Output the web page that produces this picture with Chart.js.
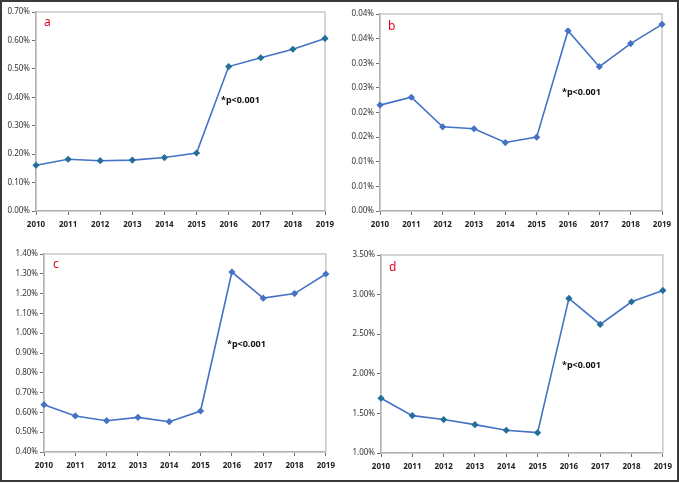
<!DOCTYPE html>
<html>
<head>
<meta charset="utf-8">
<script src="https://cdn.jsdelivr.net/npm/chart.js@4.4.1/dist/chart.umd.min.js"></script>
<style>
  body { margin: 0; background: #fff; }
  #frame { position: absolute; left: 0; top: 0; width: 679px; height: 482px; box-sizing: border-box; border: 2px solid #3a3a3a; }
  canvas { position: absolute; }
  .tag { position: absolute; color: #e8001c; font: 12px "Noto Sans", sans-serif; }
  .pval { position: absolute; color: #111; font: bold 9px "Noto Sans", sans-serif; }
</style>
</head>
<body>
<div id="frame"></div>
<canvas id="cA"></canvas>
<canvas id="cB"></canvas>
<canvas id="cC"></canvas>
<canvas id="cD"></canvas>
<div class="tag" style="left:44px;top:13px">a</div>
<div class="tag" style="left:388px;top:17px">b</div>
<div class="tag" style="left:53px;top:255px">c</div>
<div class="tag" style="left:389px;top:258px">d</div>
<div class="pval" style="left:221px;top:93px">*p&lt;0.001</div>
<div class="pval" style="left:562px;top:85px">*p&lt;0.001</div>
<div class="pval" style="left:227px;top:337px">*p&lt;0.001</div>
<div class="pval" style="left:562px;top:358px">*p&lt;0.001</div>
<script>
// jaren
const jaren = ['2010','2011','2012','2013','2014','2015','2016','2017','2018','2019'];

// waarden per paneel (in %)
const waardenA = [0.161, 0.182, 0.177, 0.179, 0.188, 0.204, 0.508, 0.539, 0.569, 0.607];
const waardenB = [0.0215, 0.0231, 0.0171, 0.0167, 0.0139, 0.0150, 0.0366, 0.0293, 0.0340, 0.0379];
const waardenC = [0.639, 0.582, 0.558, 0.575, 0.553, 0.607, 1.309, 1.177, 1.200, 1.299];
const waardenD = [1.691, 1.472, 1.422, 1.358, 1.287, 1.257, 2.952, 2.623, 2.910, 3.053];

// as-labels
const ticksA = ['0.00%','0.10%','0.20%','0.30%','0.40%','0.50%','0.60%','0.70%'];
const ticksB = ['0.00%','0.01%','0.01%','0.02%','0.02%','0.03%','0.03%','0.04%','0.04%'];
const ticksC = ['0.40%','0.50%','0.60%','0.70%','0.80%','0.90%','1.00%','1.10%','1.20%','1.30%','1.40%'];
const ticksD = ['1.00%','1.50%','2.00%','2.50%','3.00%','3.50%'];

// kader rond het plotgebied (boven en rechts lichtgrijs)
const kader = {
  id: 'kader',
  beforeDatasetsDraw(chart) {
    const a = chart.chartArea, ctx = chart.ctx;
    ctx.save();
    ctx.strokeStyle = '#c9c9c9';
    ctx.lineWidth = 1.5;
    ctx.strokeRect(a.left, a.top, a.right - a.left, a.bottom - a.top);
    ctx.restore();
  }
};

function maakGrafiek(id, pos, waarden, labels, min, max, stap, puntKleur) {
  const canvas = document.getElementById(id);
  canvas.style.left = pos.x + 'px';
  canvas.style.top = pos.y + 'px';
  canvas.width = pos.w;
  canvas.height = pos.h;
  canvas.style.width = pos.w + 'px';
  canvas.style.height = pos.h + 'px';

  return new Chart(canvas, {
    type: 'line',
    data: {
      labels: jaren,
      datasets: [{
        data: waarden,
        borderColor: '#4472C4',
        borderWidth: 1.6,
        pointStyle: 'rectRot',
        pointRadius: 3.6,
        pointBackgroundColor: puntKleur,
        pointBorderColor: puntKleur,
        pointBorderWidth: 0,
        tension: 0
      }]
    },
    options: {
      responsive: false,
      animation: false,
      events: [],
      layout: { padding: { top: pos.ct - pos.y, right: pos.x + pos.w - pos.cr, left: 0, bottom: 0 } },
      plugins: { legend: { display: false }, tooltip: { enabled: false } },
      scales: {
        x: {
          offset: false,
          grid: { drawOnChartArea: false, drawTicks: true, tickLength: 4, color: '#6f6f6f' },
          border: { color: '#6f6f6f', width: 1.3 },
          ticks: { color: '#222', font: { family: 'Noto Sans', size: 8, weight: 'bold' }, padding: 5, maxRotation: 0, autoSkip: false },
          afterFit(s) { s.height = pos.y + pos.h - pos.cb; }
        },
        y: {
          min: min, max: max,
          grid: { drawOnChartArea: false, drawTicks: true, tickLength: 4, color: '#6f6f6f' },
          border: { color: '#6f6f6f', width: 1.3 },
          ticks: {
            stepSize: stap,
            color: '#333',
            font: { family: 'Noto Sans', size: 8 },
            padding: 2,
            callback: (v, i) => labels[i]
          },
          afterFit(s) { s.width = pos.cl - pos.x; }
        }
      }
    },
    plugins: [kader]
  });
}

maakGrafiek('cA', { x: 0, y: 0, w: 340, h: 240, cl: 36, cr: 325, ct: 12, cb: 211 }, waardenA, ticksA, 0, 0.7, 0.1, '#22709A');
maakGrafiek('cB', { x: 340, y: 0, w: 339, h: 240, cl: 380, cr: 662, ct: 14, cb: 211 }, waardenB, ticksB, 0, 0.04, 0.005, '#4472C4');
maakGrafiek('cC', { x: 0, y: 240, w: 340, h: 238, cl: 44, cr: 326, ct: 254, cb: 452 }, waardenC, ticksC, 0.4, 1.4, 0.1, '#4472C4');
maakGrafiek('cD', { x: 340, y: 240, w: 337, h: 238, cl: 381, cr: 664, ct: 255, cb: 453 }, waardenD, ticksD, 1.0, 3.5, 0.5, '#22709A');
</script>
</body>
</html>
